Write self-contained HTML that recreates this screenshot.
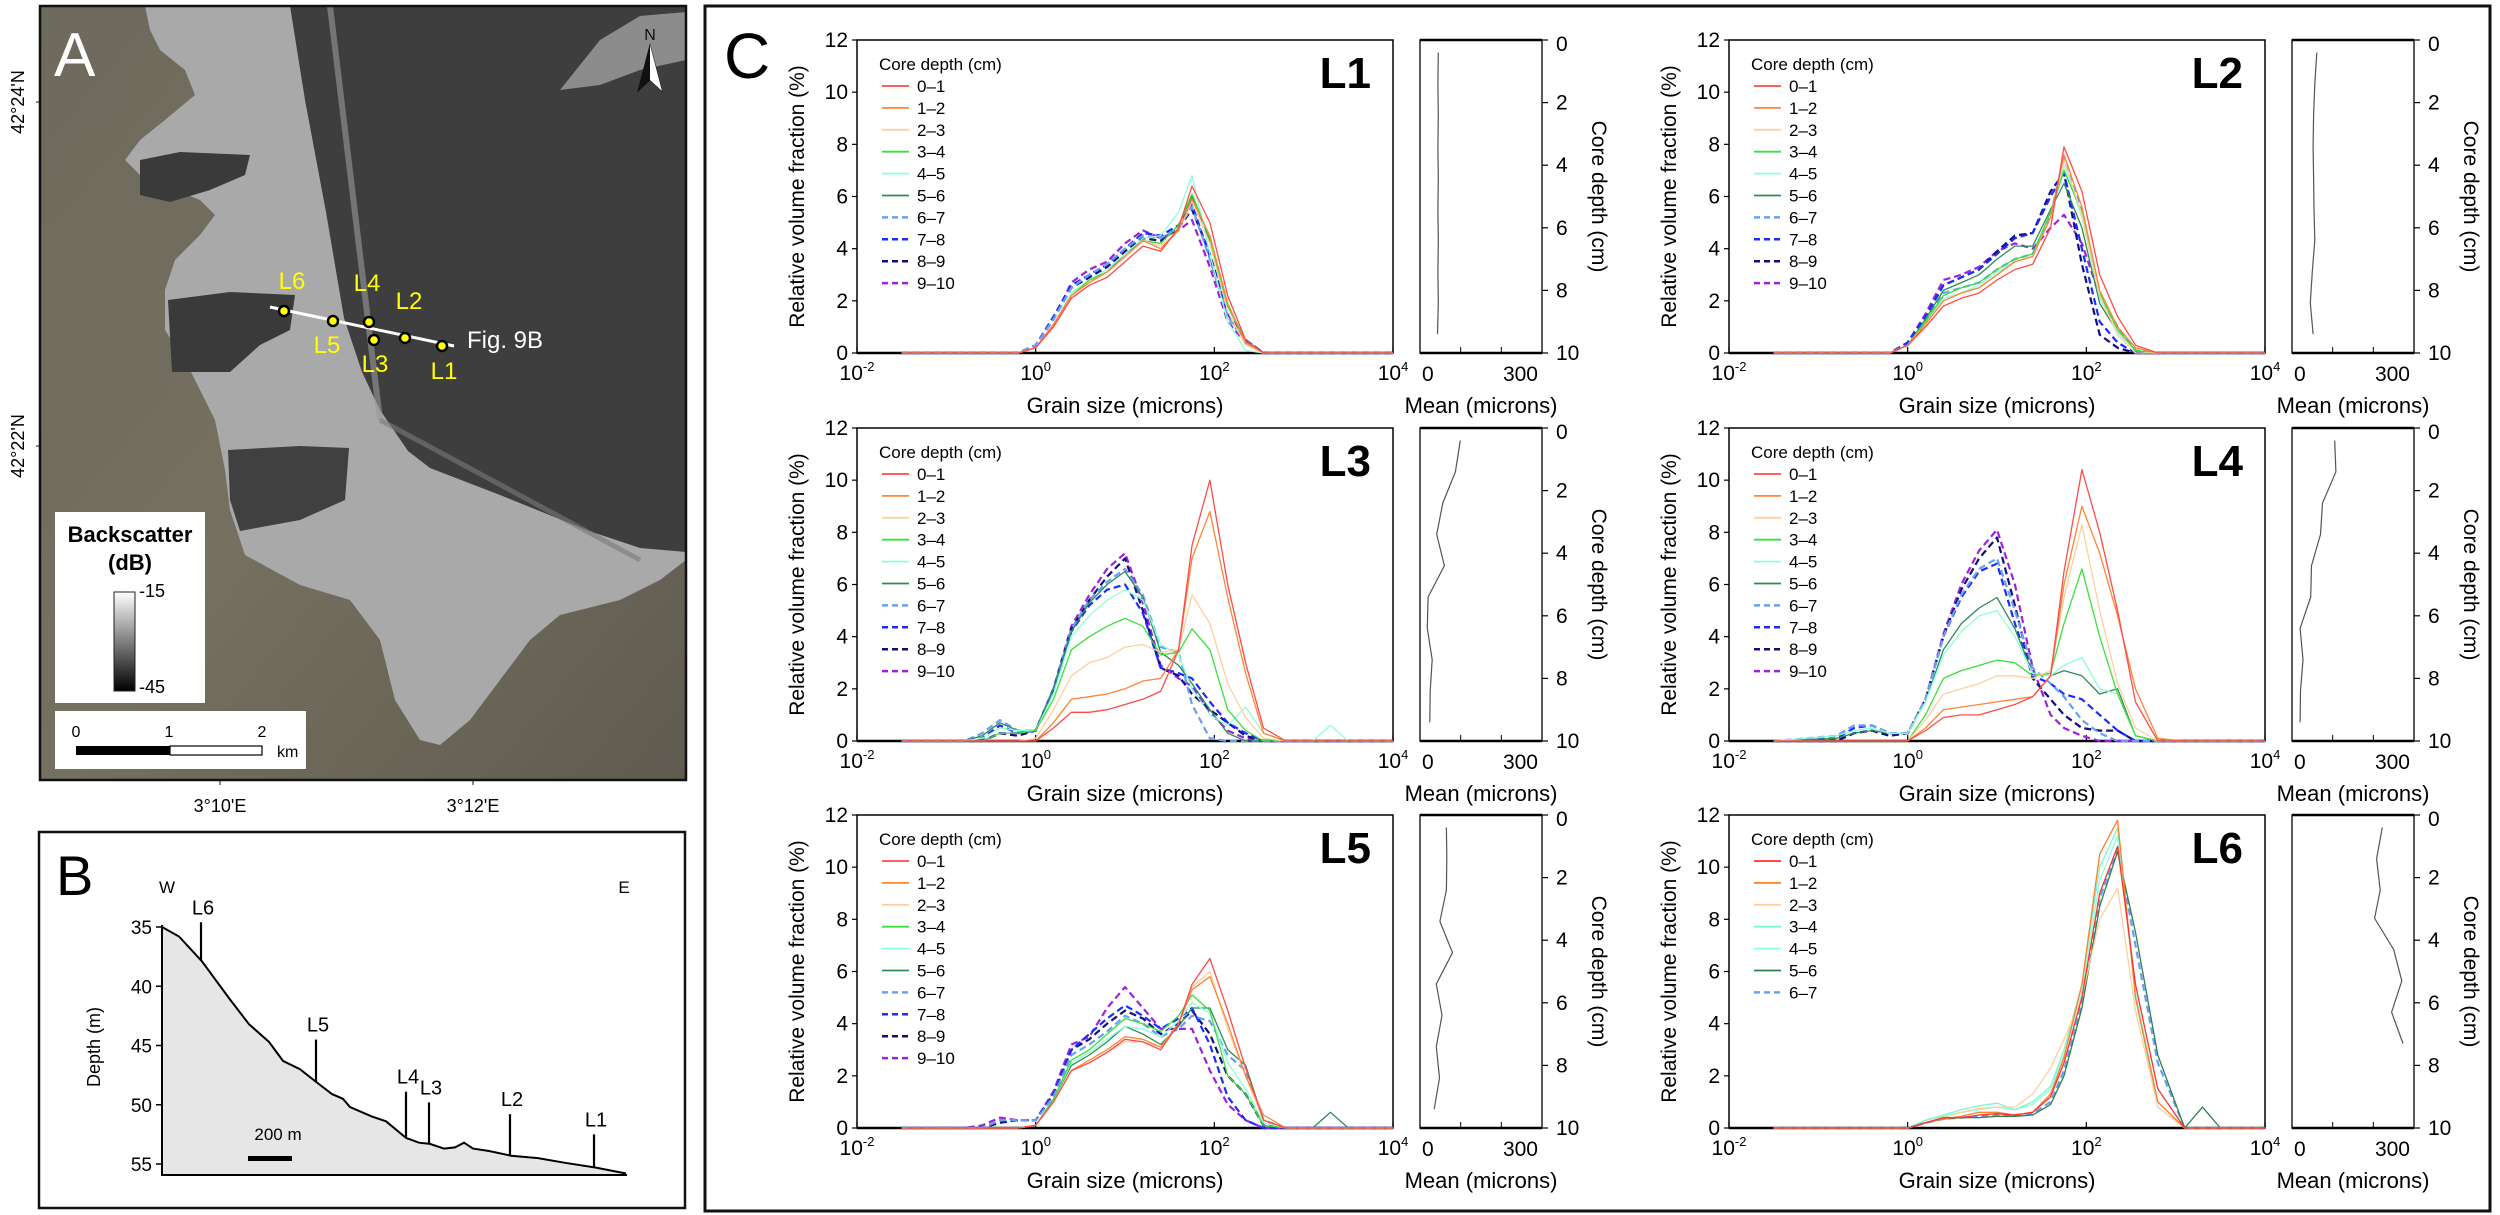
<!DOCTYPE html>
<html><head><meta charset="utf-8"><title>Grain size figure</title>
<style>
html,body{margin:0;padding:0;background:#fff;overflow:hidden;}
svg{display:block;font-family:"Liberation Sans Narrow","Liberation Sans",Arial,sans-serif;}
</style></head>
<body>
<svg id="fig" width="2500" height="1215" viewBox="0 0 2500 1215" xmlns="http://www.w3.org/2000/svg">
<g>
  <defs>
    <linearGradient id="landG" x1="0" y1="0" x2="1" y2="1">
      <stop offset="0" stop-color="#6d6a5e"/><stop offset="0.5" stop-color="#75705f"/><stop offset="1" stop-color="#5f5b50"/>
    </linearGradient>
    <linearGradient id="cbar" x1="0" y1="0" x2="0" y2="1">
      <stop offset="0" stop-color="#ffffff"/><stop offset="1" stop-color="#000000"/>
    </linearGradient>
    <clipPath id="mapClip"><rect x="40" y="6" width="646" height="774"/></clipPath>
  </defs>
  <g clip-path="url(#mapClip)">
    <rect x="40" y="6" width="646" height="774" fill="url(#landG)"/>
    <polygon fill="#a9a9a9" points="145,6 686,6 686,560 660,580 620,600 560,615 530,640 500,680 470,720 440,745 420,740 395,700 380,640 350,600 300,585 245,555 230,510 225,470 215,420 190,370 165,330 165,290 175,260 200,235 215,215 200,200 175,190 140,175 125,160 140,140 165,120 195,95 185,70 160,50 150,30"/>
    <polygon fill="#3e3e3e" points="290,6 686,6 686,552 640,548 589,531 500,495 430,468 408,451 380,410 362,372 344,318 326,212 305,100"/>
    <polygon fill="#8c8c8c" points="560,90 600,40 640,16 686,12 686,60 640,70 600,85"/>
    <polygon fill="#3a3a3a" points="140,160 180,152 250,155 245,175 210,190 170,202 140,195"/>
    <polygon fill="#3a3a3a" points="168,300 230,292 295,295 290,330 260,345 230,372 172,372"/>
    <polygon fill="#404040" points="228,450 300,446 349,448 345,500 300,520 240,531 230,500"/>
    <line x1="330" y1="6" x2="380" y2="420" stroke="#9a9a9a" stroke-width="6" opacity="0.6"/>
    <line x1="380" y1="420" x2="640" y2="560" stroke="#7a7a7a" stroke-width="5" opacity="0.6"/>
  </g>
  <rect x="40" y="6" width="646" height="774" fill="none" stroke="#111" stroke-width="2.5"/>
  <text x="54" y="76" font-size="62" fill="#fff" font-family="Liberation Sans, sans-serif">A</text>
  <g>
    <polygon points="650,45 638,91 650,80 662,91" fill="#111" stroke="#111" stroke-width="1"/>
    <polygon points="650,45 650,80 662,91" fill="#fff"/>
    <text x="650" y="40" font-size="16" text-anchor="middle" fill="#111" font-family="Liberation Sans, sans-serif">N</text>
  </g>
  <line x1="36" y1="102" x2="40" y2="102" stroke="#111"/>
  <line x1="36" y1="446" x2="40" y2="446" stroke="#111"/>
  <text transform="translate(24,102) rotate(-90)" font-size="18" text-anchor="middle" font-family="Liberation Sans, sans-serif">42°24'N</text>
  <text transform="translate(24,446) rotate(-90)" font-size="18" text-anchor="middle" font-family="Liberation Sans, sans-serif">42°22'N</text>
  <line x1="220" y1="780" x2="220" y2="785" stroke="#111"/>
  <line x1="473" y1="780" x2="473" y2="785" stroke="#111"/>
  <text x="220" y="812" font-size="18" text-anchor="middle" font-family="Liberation Sans, sans-serif">3°10'E</text>
  <text x="473" y="812" font-size="18" text-anchor="middle" font-family="Liberation Sans, sans-serif">3°12'E</text>
  <g>
    <rect x="55" y="512" width="150" height="191" fill="#fff"/>
    <text x="130" y="542" font-size="22" font-weight="bold" text-anchor="middle" font-family="Liberation Sans, sans-serif">Backscatter</text>
    <text x="130" y="570" font-size="22" font-weight="bold" text-anchor="middle" font-family="Liberation Sans, sans-serif">(dB)</text>
    <rect x="114" y="592" width="21" height="99" fill="url(#cbar)" stroke="#222" stroke-width="1"/>
    <text x="139" y="597" font-size="18" font-family="Liberation Sans, sans-serif">-15</text>
    <text x="139" y="693" font-size="18" font-family="Liberation Sans, sans-serif">-45</text>
  </g>
  <g>
    <rect x="55" y="711" width="251" height="58" fill="#fff"/>
    <rect x="76" y="746" width="94" height="9" fill="#000"/>
    <rect x="170" y="746" width="92" height="9" fill="#fff" stroke="#000" stroke-width="1.2"/>
    <text x="76" y="737" font-size="16" text-anchor="middle" font-family="Liberation Sans, sans-serif">0</text>
    <text x="169" y="737" font-size="16" text-anchor="middle" font-family="Liberation Sans, sans-serif">1</text>
    <text x="262" y="737" font-size="16" text-anchor="middle" font-family="Liberation Sans, sans-serif">2</text>
    <text x="277" y="757" font-size="16" font-family="Liberation Sans, sans-serif">km</text>
  </g>
  <g id="transect">
    <line x1="270" y1="307" x2="454" y2="346" stroke="#fff" stroke-width="3"/>
    <text x="467" y="348" font-size="24" fill="#fff" font-family="Liberation Sans, sans-serif">Fig. 9B</text>
  </g>
</g>

<g id="panelB">
  <rect x="39" y="832" width="646" height="376" fill="#fff" stroke="#111" stroke-width="2.5"/>
  <text x="56" y="895" font-size="56" font-family="Liberation Sans, sans-serif">B</text>
  <text x="167" y="893" font-size="17" text-anchor="middle" font-family="Liberation Sans, sans-serif">W</text>
  <text x="624" y="893" font-size="17" text-anchor="middle" font-family="Liberation Sans, sans-serif">E</text>
  <text transform="translate(100,1047) rotate(-90)" font-size="18" text-anchor="middle" font-family="Liberation Sans, sans-serif">Depth (m)</text>
</g>

<rect x="705" y="6" width="1785" height="1205" fill="none" stroke="#111" stroke-width="3"/>
<text x="724" y="78" font-size="64" font-family="Liberation Sans, sans-serif">C</text>
<g id="panelC"></g>
</svg>

<script>
// ---------- Panel A site data ----------
const siteNames = ["L6","L5","L4","L3","L2","L1"];
const siteMapX = [284,333,369,374,405,442];
const siteMapY = [311,321,322,340,338,346];
const siteLabelX = [292,327,367,375,409,444];
const siteLabelY = [289,353,291,372,309,379];

// ---------- Panel B profile data ----------
const profileDist = [0,17,40,67,87,107,121,138,156,170,181,188,210,224,244,257,268,282,293,302,311,327,349,376,403,434,464];
const profileDepth = [35,35.8,37.9,41.0,43.2,44.7,46.3,47.0,48.2,49.1,49.5,50.2,51.0,51.4,52.8,53.2,53.3,53.7,53.6,53.2,53.7,53.9,54.3,54.5,54.9,55.3,55.8];
const coreDist = [39,154,244,267,348,432];
const coreTopDepth = [34.6,44.5,48.9,49.8,50.8,52.5];
const depthTicks = [35,40,45,50,55];

// ---------- Panel C data ----------
const grainLog = [-1.5,-0.8,-0.6,-0.4,-0.2,0,0.2,0.4,0.6,0.8,1.0,1.2,1.4,1.6,1.75,1.95,2.15,2.35,2.55,2.8,3.1,3.3,3.5,4];
const depthLabels10 = ["0\u20131","1\u20132","2\u20133","3\u20134","4\u20135","5\u20136","6\u20137","7\u20138","8\u20139","9\u201310"];
const depthLabels7 = ["0\u20131","1\u20132","2\u20133","3\u20134","4\u20135","5\u20136","6\u20137"];
const yTicks = [0,2,4,6,8,10,12];
const xTickExp = [-2,0,2,4];
const depthTicksC = [0,2,4,6,8,10];

const L1 = [
 [0,0,0,0,0,0.2,1.0,2.1,2.6,2.9,3.5,4.1,3.9,4.8,6.4,5.0,2.2,0.5,0,0,0,0,0,0],
 [0,0,0,0,0,0.2,1.1,2.2,2.7,3.1,3.7,4.3,4.0,4.7,5.9,4.5,1.9,0.4,0,0,0,0,0,0],
 [0,0,0,0,0,0.2,1.1,2.2,2.7,3.1,3.7,4.3,4.1,4.7,5.8,4.2,1.6,0.3,0,0,0,0,0,0],
 [0,0,0,0,0,0.2,1.1,2.2,2.8,3.1,3.7,4.3,4.2,4.9,6.1,4.4,1.8,0.4,0,0,0,0,0,0],
 [0,0,0,0,0,0.2,1.1,2.3,2.8,3.2,3.8,4.4,4.5,5.4,6.8,3.8,1.2,0.1,0,0,0,0,0,0],
 [0,0,0,0,0,0.2,1.1,2.2,2.8,3.1,3.8,4.3,4.2,4.9,6.0,4.3,1.8,0.5,0,0,0,0,0,0],
 [0,0,0,0,0,0.3,1.3,2.5,3.0,3.4,4.0,4.5,4.4,4.8,5.6,3.6,1.4,0.4,0,0,0,0,0,0],
 [0,0,0,0,0,0.3,1.4,2.6,3.0,3.4,4.0,4.6,4.5,4.9,5.7,3.7,1.5,0.5,0,0,0,0,0,0],
 [0,0,0,0,0,0.3,1.3,2.5,2.9,3.3,3.9,4.4,4.3,4.8,5.5,3.8,1.5,0.5,0,0,0,0,0,0],
 [0,0,0,0,0,0.3,1.3,2.7,3.2,3.5,4.2,4.7,4.4,4.7,5.1,3.3,1.2,0.4,0,0,0,0,0,0]];
const L2 = [
 [0,0,0,0,0,0.3,1.0,1.8,2.1,2.3,2.8,3.2,3.4,4.8,7.9,6.2,3.0,1.4,0.3,0,0,0,0,0],
 [0,0,0,0,0,0.3,1.1,2.0,2.3,2.5,3.0,3.5,3.7,5.2,7.6,5.6,2.4,1.0,0.2,0,0,0,0,0],
 [0,0,0,0,0,0.3,1.1,2.0,2.3,2.5,3.0,3.5,3.7,5.2,7.4,5.3,2.2,0.7,0,0,0,0,0,0],
 [0,0,0,0,0,0.3,1.2,2.2,2.5,2.7,3.2,3.6,3.8,5.4,7.0,5.4,2.3,0.9,0.1,0,0,0,0,0],
 [0,0,0,0,0,0.3,1.2,2.1,2.3,2.6,3.1,3.5,3.7,5.2,7.2,5.2,2.1,0.8,0.1,0,0,0,0,0],
 [0,0,0,0,0,0.3,1.3,2.4,2.7,3.0,3.6,4.1,4.1,5.5,6.5,4.8,1.9,0.8,0.1,0,0,0,0,0],
 [0,0,0,0,0,0.3,1.2,2.3,2.5,2.7,3.2,3.6,3.8,5.3,7.5,5.5,2.3,0.9,0.1,0,0,0,0,0],
 [0,0,0,0,0,0.4,1.4,2.6,2.9,3.2,3.8,4.4,4.6,6.0,6.9,4.0,1.2,0.4,0,0,0,0,0,0],
 [0,0,0,0,0,0.4,1.4,2.6,2.9,3.2,3.9,4.5,4.6,6.2,6.9,3.4,0.7,0.2,0,0,0,0,0,0],
 [0,0,0,0,0,0.4,1.5,2.8,3.0,3.3,3.9,4.2,4.0,4.8,5.3,4.2,2.2,1.0,0.1,0,0,0,0,0]];
const L3 = [
 [0,0,0,0,0,0,0.5,1.1,1.1,1.2,1.4,1.6,1.9,3.5,7.5,10.0,6.0,3.0,0.5,0,0,0,0,0],
 [0,0,0,0,0,0,0.7,1.6,1.7,1.8,2.0,2.3,2.4,3.5,7.0,8.8,5.5,2.6,0.3,0,0,0,0,0],
 [0,0,0,0,0,0.1,1.2,2.5,3.0,3.2,3.6,3.7,3.4,3.5,5.6,4.5,2.2,0.9,0.1,0,0,0,0,0],
 [0,0,0,0.3,0.3,0.4,1.6,3.5,4.0,4.4,4.7,4.4,3.3,3.4,4.3,3.5,1.2,0.4,0,0,0,0,0,0],
 [0,0,0.1,0.5,0.4,0.4,1.8,4.0,4.8,5.4,5.8,5.4,3.7,3.3,2.0,1.0,0.6,1.3,0.3,0,0,0.6,0,0],
 [0,0,0.2,0.7,0.4,0.4,2.0,4.2,5.3,6.0,6.5,5.5,3.4,2.9,2.2,1.2,0.3,0,0,0,0,0,0,0],
 [0,0,0.3,0.8,0.4,0.4,2.0,4.3,5.4,6.1,6.6,5.6,3.6,3.4,1.4,0.1,0,0,0,0,0,0,0,0],
 [0,0,0.1,0.6,0.3,0.4,2.0,4.2,5.2,5.8,6.0,4.9,2.8,2.6,2.4,1.5,0.7,0.3,0,0,0,0,0,0],
 [0,0,0,0.3,0.2,0.4,2.0,4.3,5.4,6.3,7.0,5.0,2.8,2.5,1.8,1.2,0.7,0.2,0,0,0,0,0,0],
 [0,0,0,0.3,0.3,0.4,2.0,4.4,5.6,6.6,7.2,5.3,2.9,2.4,2.1,1.1,0.4,0.1,0,0,0,0,0,0]];
const L4 = [
 [0,0,0,0,0,0,0.4,0.9,1.0,1.0,1.2,1.4,1.7,2.5,6.5,10.4,8.0,5.0,1.5,0,0,0,0,0],
 [0,0,0,0,0,0,0.5,1.2,1.3,1.4,1.5,1.6,1.7,2.5,6.0,9.0,7.2,4.8,2.0,0.1,0,0,0,0],
 [0,0,0,0,0,0,0.8,1.8,2.0,2.2,2.5,2.5,2.4,2.7,5.5,8.3,5.0,2.2,0.5,0,0,0,0,0],
 [0,0,0,0,0,0,1.0,2.4,2.7,2.9,3.1,3.0,2.5,2.6,4.5,6.6,4.0,1.8,0.2,0,0,0,0,0],
 [0,0.2,0.4,0.5,0.3,0.3,1.5,3.3,4.2,4.8,5.0,4.0,2.6,2.5,2.9,3.2,2.0,1.8,0.2,0,0,0,0,0],
 [0,0.1,0.3,0.4,0.3,0.3,1.5,3.5,4.5,5.1,5.5,4.3,2.6,2.5,2.7,2.5,1.8,2.0,0.2,0,0,0,0,0],
 [0,0.2,0.6,0.6,0.3,0.3,1.6,4.0,5.6,6.6,7.0,5.0,2.8,2.2,1.7,0.8,0.3,0,0,0,0,0,0,0],
 [0,0.1,0.5,0.6,0.3,0.3,1.6,4.0,5.5,6.5,6.8,4.5,2.5,2.2,1.8,1.6,1.0,0.4,0,0,0,0,0,0],
 [0,0,0.3,0.4,0.2,0.3,1.6,4.0,5.8,7.0,7.8,5.2,2.4,1.6,1.0,0.5,0.4,0.4,0,0,0,0,0,0],
 [0,0,0.3,0.4,0.2,0.3,1.6,4.1,6.0,7.3,8.1,6.0,2.8,1.0,0.5,0.2,0,0,0,0,0,0,0,0]];
const L5 = [
 [0,0,0,0,0,0.1,1.0,2.2,2.5,2.9,3.4,3.3,3.0,4.0,5.5,6.5,4.5,2.3,0.3,0,0,0,0,0],
 [0,0,0,0,0,0.1,1.0,2.2,2.6,3.0,3.5,3.4,3.1,4.0,5.3,5.8,4.0,2.0,0.5,0,0,0,0,0],
 [0,0,0,0,0,0.1,1.0,2.2,2.5,2.9,3.3,3.3,3.1,4.0,5.4,6.0,3.8,2.0,0.3,0,0,0,0,0],
 [0,0,0,0,0,0.1,1.1,2.6,3.0,3.6,4.2,4.0,3.7,4.3,5.1,4.5,2.0,1.3,0.1,0,0,0,0,0],
 [0,0,0,0,0,0.1,1.1,2.5,2.9,3.4,3.9,3.8,3.5,4.1,4.8,4.4,2.5,1.5,0.2,0,0,0,0,0],
 [0,0,0,0,0,0.1,1.1,2.4,2.8,3.3,3.9,3.6,3.2,3.9,4.6,4.6,3.0,2.4,0.3,0,0,0.6,0,0],
 [0,0,0,0.3,0.3,0.3,1.2,2.8,3.2,3.7,4.3,4.0,3.5,3.8,4.3,4.1,2.8,2.2,0.3,0,0,0,0,0],
 [0,0,0,0.3,0.3,0.3,1.3,3.0,3.6,4.2,4.7,4.3,3.8,4.2,4.6,3.2,1.2,0.3,0,0,0,0,0,0],
 [0,0,0,0.2,0.3,0.3,1.3,3.0,3.4,4.0,4.5,4.2,3.6,4.0,4.5,3.6,2.0,1.3,0.1,0,0,0,0,0],
 [0,0,0.1,0.4,0.3,0.3,1.4,3.2,3.5,4.6,5.4,4.6,3.8,3.8,3.8,2.2,0.9,0.3,0,0,0,0,0,0]];
const L6 = [
 [0,0,0,0,0,0,0.2,0.4,0.4,0.5,0.55,0.5,0.6,1.2,2.5,5.0,9.0,10.8,5.5,1.5,0,0,0,0],
 [0,0,0,0,0,0,0.2,0.35,0.45,0.6,0.6,0.5,0.6,1.3,2.7,5.5,10.5,11.8,5.0,1.0,0,0,0,0],
 [0,0,0,0,0,0,0.2,0.4,0.6,0.75,0.8,0.8,1.3,2.3,3.4,5.0,8.0,9.2,4.5,0.8,0,0,0,0],
 [0,0,0,0,0,0,0.3,0.5,0.7,0.85,0.95,0.7,1.0,1.6,3.0,5.5,10.0,11.5,5.0,0.8,0,0,0,0],
 [0,0,0,0,0,0,0.3,0.45,0.6,0.7,0.8,0.7,0.9,1.5,2.8,5.2,9.5,11.2,5.2,1.0,0,0,0,0],
 [0,0,0,0,0,0,0.2,0.35,0.4,0.4,0.45,0.45,0.5,0.9,2.0,4.6,8.5,10.6,7.5,2.8,0,0.8,0,0],
 [0,0,0,0,0,0,0.2,0.35,0.4,0.45,0.5,0.5,0.55,1.0,2.2,4.8,8.8,10.7,7.0,2.5,0,0,0,0]];

const meanDepth10 = [0.4,1.4,2.4,3.4,4.4,5.4,6.4,7.4,8.4,9.4];
const meanDepth8 = [0.4,1.4,2.4,3.3,4.3,5.3,6.3,7.3];
const meanL1 = [45,44,45,44,45,44,45,44,45,43];
const meanL2 = [61,56,53,52,53,54,56,50,45,52];
const meanL3 = [99,87,56,41,60,20,18,30,25,24];
const meanL4 = [105,108,75,70,48,46,20,27,21,20];
const meanL5 = [65,66,65,49,80,40,54,40,48,35];
const meanL6 = [222,208,217,203,250,270,245,273];

const seriesColor = ["#ff4a4a","#ff8534","#ffcfa0","#3be03b","#8dffd8","#2e8b57","#6aa0f0","#1a2cff","#10107a","#a020e0"];
const seriesColorL6 = ["#ff3030","#ff7f27","#ffcfa0","#7df5d0","#8dffd8","#2e7f4f","#6aa0f0"];

// ---------- helpers ----------
const NS = "http://www.w3.org/2000/svg";
const svg = document.getElementById("fig");
function mk(tag, attrs, parent) {
  const el = document.createElementNS(NS, tag);
  for (const k in attrs) el.setAttribute(k, attrs[k]);
  (parent || svg).appendChild(el);
  return el;
}

// ---------- Panel A sites ----------
const transect = document.getElementById("transect");
siteNames.forEach((n, i) => {
  const c = mk("circle", {cx: siteMapX[i], cy: siteMapY[i], r: 5, fill: "#ffff00", stroke: "#000", "stroke-width": 2.5}, transect);
  
  
  const t = mk("text", {x: siteLabelX[i], y: siteLabelY[i], "font-size": 24, fill: "#ffff00", "text-anchor": "middle", "font-family": "Liberation Sans, sans-serif"}, transect);
  t.textContent = n;
  
  
});

// ---------- Panel B ----------
const pB = document.getElementById("panelB");
const bx0 = 162;
const by = d => 927 + (d - 35) * 11.85;
const bxf = d => bx0 + d;
let pts = profileDist.map((d, i) => bxf(d) + "," + by(profileDepth[i]).toFixed(1));
const area = mk("polygon", {points: pts.join(" ") + " " + bxf(profileDist[profileDist.length-1]) + ",1175 " + bx0 + ",1175", fill: "#e6e6e6", stroke: "none"}, pB);


const prof = mk("polyline", {points: pts.join(" "), fill: "none", stroke: "#000", "stroke-width": 2}, pB);


const bax = mk("path", {d: "M162,925 V1175 H627", fill: "none", stroke: "#000", "stroke-width": 2}, pB);


depthTicks.forEach(d => {
  const tk = mk("line", {x1: 156, x2: 162, y1: by(d), y2: by(d), stroke: "#000", "stroke-width": 1.5}, pB);
  
  
  const tl = mk("text", {x: 152, y: by(d) + 7, "font-size": 19, "text-anchor": "end", "font-family": "Liberation Sans Narrow, Liberation Sans, sans-serif"}, pB);
  tl.textContent = d;
  
  
});
function interpDepth(x) {
  for (let i = 1; i < profileDist.length; i++) {
    if (x <= profileDist[i]) {
      const f = (x - profileDist[i-1]) / (profileDist[i] - profileDist[i-1]);
      return profileDepth[i-1] + f * (profileDepth[i] - profileDepth[i-1]);
    }
  }
  return profileDepth[profileDepth.length-1];
}
const coreOrder = ["L6","L5","L4","L3","L2","L1"];
coreDist.forEach((d, i) => {
  const x = bxf(d);
  const ln = mk("line", {x1: x, x2: x, y1: by(coreTopDepth[i]), y2: by(interpDepth(d)), stroke: "#000", "stroke-width": 2.2}, pB);
  
  
  const tl = mk("text", {x: x + 2, y: by(coreTopDepth[i]) - 8, "font-size": 20, "text-anchor": "middle", "font-family": "Liberation Sans Narrow, Liberation Sans, sans-serif"}, pB);
  tl.textContent = coreOrder[i];
  
  
});
const sb = mk("rect", {x: 248, y: 1156, width: 44, height: 5, fill: "#000"}, pB);


const sbt = mk("text", {x: 278, y: 1140, "font-size": 17, "text-anchor": "middle", "font-family": "Liberation Sans Narrow, Liberation Sans, sans-serif"}, pB);
sbt.textContent = "200 m";



// ---------- Panel C ----------
const pC = document.getElementById("panelC");
const PW = 536, PH = 313;
const panels = [
  {name: "L1", left: 857, top: 40, data: L1, labels: depthLabels10, colors: seriesColor, means: meanL1, md: meanDepth10},
  {name: "L2", left: 1729, top: 40, data: L2, labels: depthLabels10, colors: seriesColor, means: meanL2, md: meanDepth10},
  {name: "L3", left: 857, top: 428, data: L3, labels: depthLabels10, colors: seriesColor, means: meanL3, md: meanDepth10},
  {name: "L4", left: 1729, top: 428, data: L4, labels: depthLabels10, colors: seriesColor, means: meanL4, md: meanDepth10},
  {name: "L5", left: 857, top: 815, data: L5, labels: depthLabels10, colors: seriesColor, means: meanL5, md: meanDepth10},
  {name: "L6", left: 1729, top: 815, data: L6, labels: depthLabels7, colors: seriesColorL6, means: meanL6, md: meanDepth8}
];
const FN = "Liberation Sans Narrow, Liberation Sans, sans-serif";

panels.forEach(p => {
  const g = mk("g", {}, pC);
  
  
  const L = p.left, T = p.top, B = p.top + PH, R = p.left + PW;
  const xs = lg => L + (lg + 2) / 6 * PW;
  const ys = v => B - v / 12 * PH;

  const frame = mk("rect", {x: L, y: T, width: PW, height: PH, fill: "#fff", stroke: "#000", "stroke-width": 1.5}, g);
  
  
  const bl = mk("line", {x1: L, x2: R, y1: B, y2: B, stroke: "#000", "stroke-width": 2.5}, g);
  
  

  yTicks.forEach(v => {
    const tk = mk("line", {x1: L - 5, x2: L, y1: ys(v), y2: ys(v), stroke: "#000", "stroke-width": 1.2}, g);
    
    
    const t = mk("text", {x: L - 9, y: ys(v) + 7, "font-size": 21, "text-anchor": "end", "font-family": FN}, g);
    t.textContent = v;
    
    
  });
  xTickExp.forEach(e => {
    const tk = mk("line", {x1: xs(e), x2: xs(e), y1: B, y2: B - 6, stroke: "#000", "stroke-width": 1.2}, g);
    
    
    const t = mk("text", {x: xs(e), y: B + 27, "font-size": 21, "text-anchor": "middle", "font-family": FN}, g);
    
    
    const s1 = mk("tspan", {}, t); s1.textContent = "10";
    const s2 = mk("tspan", {dy: -9, "font-size": 13}, t); s2.textContent = e;
  });
  const yt = mk("text", {transform: `translate(${L - 53},${(T + B) / 2}) rotate(-90)`, "font-size": 21, "text-anchor": "middle", "font-family": "Liberation Sans, sans-serif"}, g);
  yt.textContent = "Relative volume fraction (%)";
  
  
  const xt = mk("text", {x: (L + R) / 2, y: B + 60, "font-size": 22, "text-anchor": "middle", "font-family": FN}, g);
  xt.textContent = "Grain size (microns)";
  
  
  const nm = mk("text", {x: R - 22, y: T + 48, "font-size": 44, "font-weight": "bold", "text-anchor": "end", "font-family": FN}, g);
  nm.textContent = p.name;
  
  

  const lt = mk("text", {x: L + 22, y: T + 30, "font-size": 17, "font-family": FN}, g);
  lt.textContent = "Core depth (cm)";
  
  

  for (let si = p.data.length - 1; si >= 0; si--) {
    const vals = p.data[si];
    const dashed = si >= 6;
    const d = vals.map((v, i) => (i ? "L" : "M") + xs(grainLog[i]).toFixed(1) + "," + ys(v).toFixed(1)).join(" ");
    const path = mk("path", {d: d, fill: "none", stroke: p.colors[si], "stroke-width": dashed ? 2.2 : 1.3, "stroke-dasharray": dashed ? "7,4" : "none", "stroke-linejoin": "round"}, g);
    
    
  }
  p.labels.forEach((lab, si) => {
    const yy = T + 46 + si * 21.9;
    const dashed = si >= 6;
    const ll = mk("line", {x1: L + 25, x2: L + 52, y1: yy, y2: yy, stroke: p.colors[si], "stroke-width": dashed ? 2.5 : 1.8, "stroke-dasharray": dashed ? "6,4" : "none"}, g);
    
    
    const tx = mk("text", {x: L + 60, y: yy + 6, "font-size": 17, "font-family": FN}, g);
    tx.textContent = lab;
    
    
  });

  const mL = L + 563, mW = 122, mR = mL + mW;
  const mxs = v => mL + v / 300 * mW;
  const mys = d => T + d / 10 * PH;
  const mb = mk("rect", {x: mL, y: T, width: mW, height: PH, fill: "#fff", stroke: "#000", "stroke-width": 1.3}, g);
  
  
  const mtop = mk("line", {x1: mL, x2: mR, y1: T, y2: T, stroke: "#000", "stroke-width": 2.5}, g);
  
  
  const mbot = mk("line", {x1: mL, x2: mR, y1: B, y2: B, stroke: "#000", "stroke-width": 2.5}, g);
  
  
  [0, 100, 200, 300].forEach(v => {
    const tk = mk("line", {x1: mxs(v), x2: mxs(v), y1: B, y2: B - 6, stroke: "#000", "stroke-width": 1}, g);
    
    
  });
  [0, 300].forEach(v => {
    const t = mk("text", {x: mxs(v) + (v ? -4 : 2), y: B + 28, "font-size": 21, "text-anchor": v ? "end" : "start", "font-family": FN}, g);
    t.textContent = v;
    
    
  });
  depthTicksC.forEach(d => {
    const tk = mk("line", {x1: mR, x2: mR + 6, y1: mys(d), y2: mys(d), stroke: "#000", "stroke-width": 1.2}, g);
    
    
    const t = mk("text", {x: mR + 14, y: mys(d) + 7 + (d === 0 ? 4 : 0), "font-size": 21, "font-family": FN}, g);
    t.textContent = d;
    
    
  });
  const cdt = mk("text", {transform: `translate(${mR + 50},${(T + B) / 2}) rotate(90)`, "font-size": 21, "text-anchor": "middle", "font-family": "Liberation Sans, sans-serif"}, g);
  cdt.textContent = "Core depth (cm)";
  
  
  const mt = mk("text", {x: (mL + mR) / 2, y: B + 60, "font-size": 22, "text-anchor": "middle", "font-family": FN}, g);
  mt.textContent = "Mean (microns)";
  
  
  const mline = mk("polyline", {points: p.means.map((v, i) => mxs(v).toFixed(1) + "," + mys(p.md[i]).toFixed(1)).join(" "), fill: "none", stroke: "#555", "stroke-width": 1.2}, g);
  
  
});
</script>
</body></html>
